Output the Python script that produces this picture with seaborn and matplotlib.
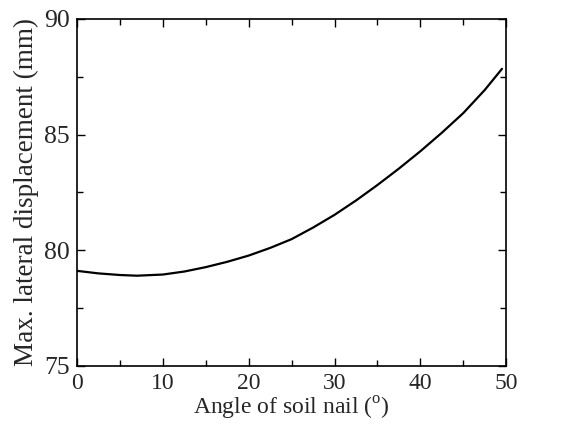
import pandas as pd
import seaborn as sns
import matplotlib
matplotlib.use("Agg")
import matplotlib.pyplot as plt
from matplotlib.ticker import MultipleLocator

# Values
angle = [0, 2.5, 5, 7, 10, 12.5, 15, 17.5, 20, 22.5, 25, 27.5, 30, 32.5, 35, 37.5, 40, 42.5, 45, 47.5, 49.5]
displacement = [79.11, 79.0, 78.93, 78.9, 78.95, 79.08, 79.27, 79.5, 79.77, 80.1, 80.48, 80.98, 81.53, 82.15, 82.82, 83.53, 84.28, 85.08, 85.93, 86.93, 87.84]

df = pd.DataFrame({"angle": angle, "disp": displacement})

sns.set_style("ticks")
plt.rcParams["font.family"] = "serif"
plt.rcParams["font.serif"] = ["Liberation Serif", "Times New Roman", "DejaVu Serif"]
plt.rcParams["mathtext.fontset"] = "custom"
plt.rcParams["mathtext.rm"] = "Liberation Serif"

fig = plt.figure(figsize=(5.74, 4.29), dpi=100)
ax = fig.add_axes([0.134, 0.147, 0.748, 0.809])

sns.lineplot(data=df, x="angle", y="disp", ax=ax, color="black", linewidth=1.6)

ax.set_xlim(0, 50)
ax.set_ylim(75, 90)
ax.xaxis.set_major_locator(MultipleLocator(10))
ax.xaxis.set_minor_locator(MultipleLocator(5))
ax.yaxis.set_major_locator(MultipleLocator(5))
ax.yaxis.set_minor_locator(MultipleLocator(2.5))
ax.tick_params(which="both", direction="in", top=True, right=True, width=1.0, color="black")
ax.tick_params(which="major", length=6)
ax.tick_params(which="minor", length=4)
ax.tick_params(axis="x", which="major", labelsize=17, pad=5)
ax.tick_params(axis="y", which="major", labelsize=18.5, pad=5)
for s in ax.spines.values():
    s.set_linewidth(1.2)
    s.set_color("black")

ax.set_xlabel(r"Angle of soil nail ($^{\rm o}$)", fontsize=17, labelpad=1)
ax.set_ylabel("Max. lateral displacement (mm)", fontsize=19.5, labelpad=4)

fig.savefig("out.png", dpi=100)
